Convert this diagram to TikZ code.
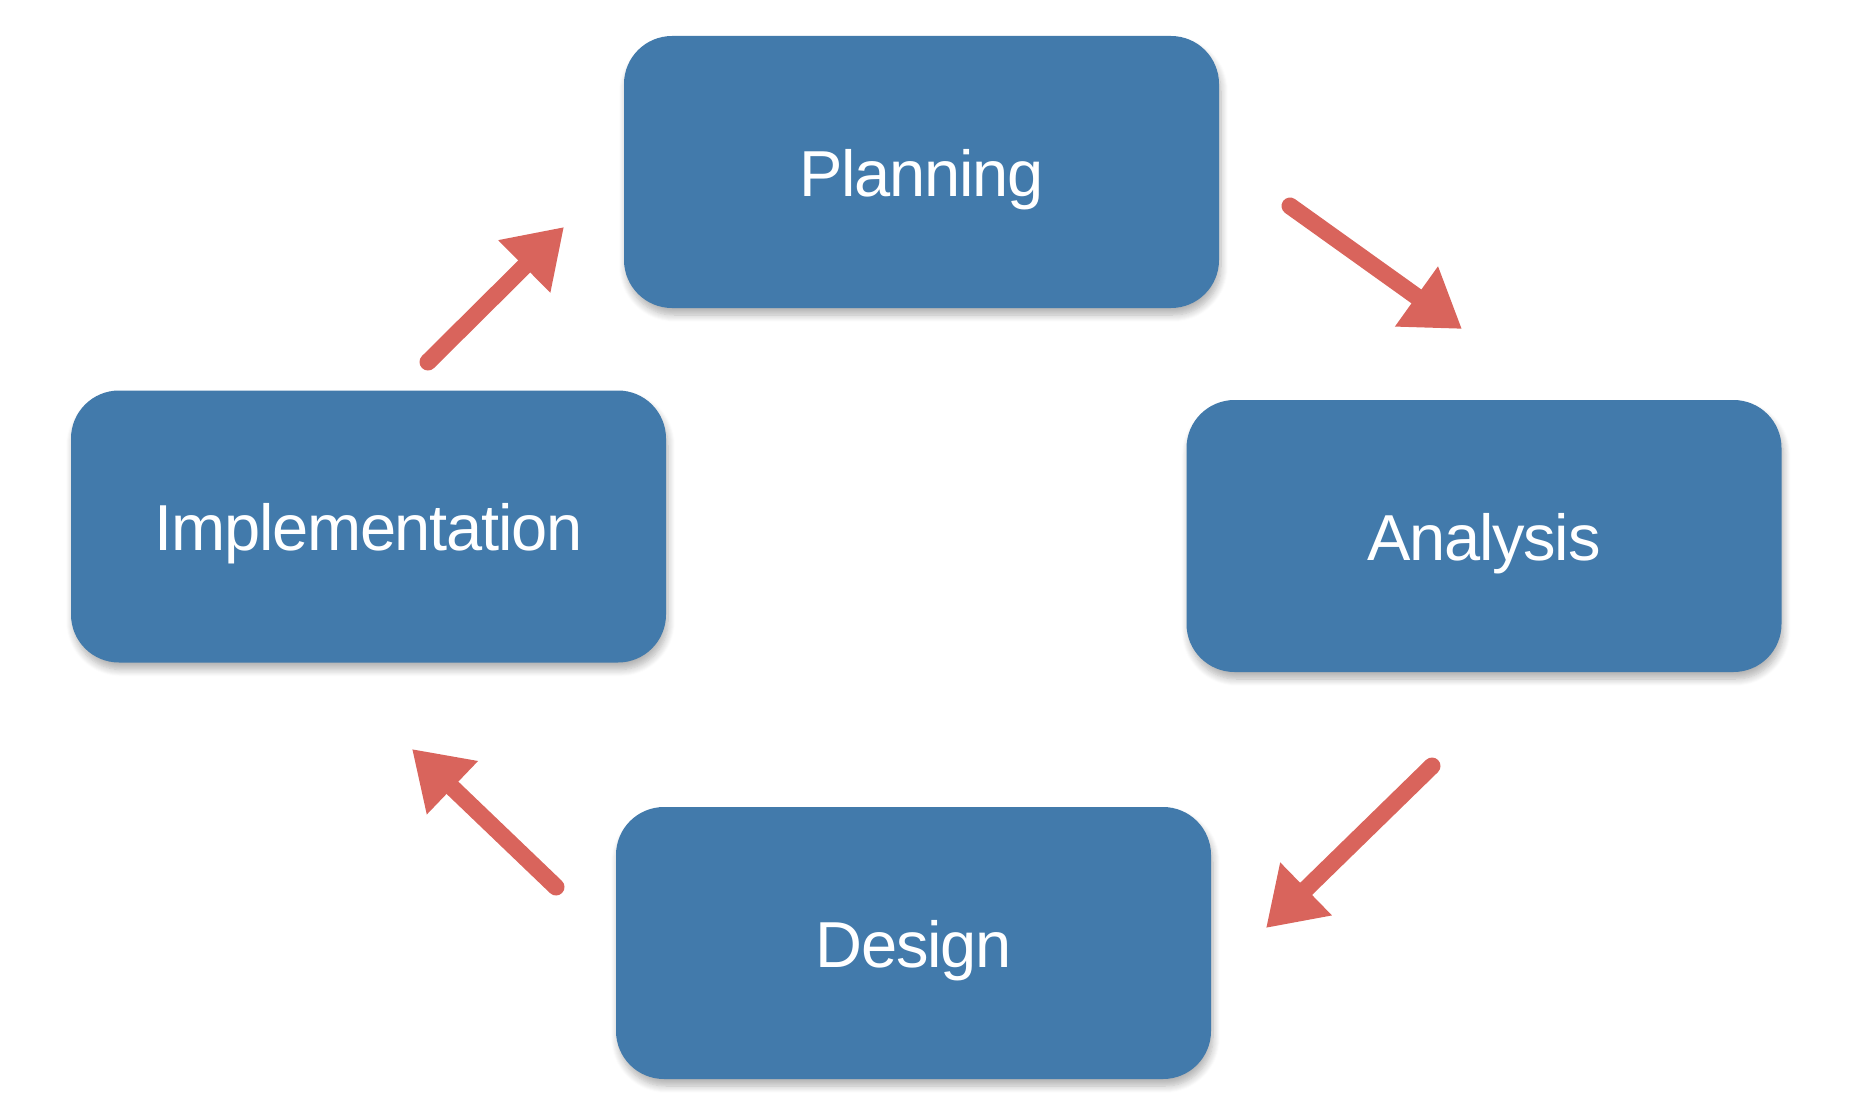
\documentclass[tikz,border=0pt]{standalone}
\usepackage{fontspec}
\newfontfamily\lblfont[LetterSpace=-2]{Liberation Sans}
\usetikzlibrary{arrows.meta,shadows.blur}
\definecolor{boxblue}{RGB}{66,122,171}
\definecolor{arrowred}{RGB}{217,100,92}
\begin{document}
\begin{tikzpicture}[x=1pt,y=-1pt,
  phase/.style={fill=boxblue, rounded corners=48pt, minimum width=595pt, minimum height=272pt,
    inner sep=0pt, text=white, font=\lblfont\fontsize{65}{76}\selectfont,
    text height=48pt, text depth=0pt,
    blur shadow={shadow xshift=2pt, shadow yshift=-7pt, shadow blur steps=8, shadow opacity=30, shadow blur radius=7pt}},
  flow/.style={draw=arrowred, line width=17pt, line cap=round, line join=round,
    -{Triangle[length=56pt,width=70pt]}}]
\useasboundingbox (0,0) rectangle (1874,1116);
\node[phase] (plan) at (921.5,172) {Planning};
\node[phase] (anal) at (1484,536) {Analysis};
\node[phase] (impl) at (368.5,526.5) {Implementation};
\node[phase] (des) at (913.5,943) {Design};
\coordinate (a1s) at (428,362);
\coordinate (a1e) at (564,227);
\coordinate (a2s) at (1290,206);
\coordinate (a2e) at (1462,329);
\coordinate (a3s) at (1432,766);
\coordinate (a3e) at (1266,928);
\coordinate (a4s) at (556,887);
\coordinate (a4e) at (412,749);
\draw[flow] (a1s) -- (a1e);
\draw[flow] (a2s) -- (a2e);
\draw[flow] (a3s) -- (a3e);
\draw[flow] (a4s) -- (a4e);
\end{tikzpicture}
\end{document}
